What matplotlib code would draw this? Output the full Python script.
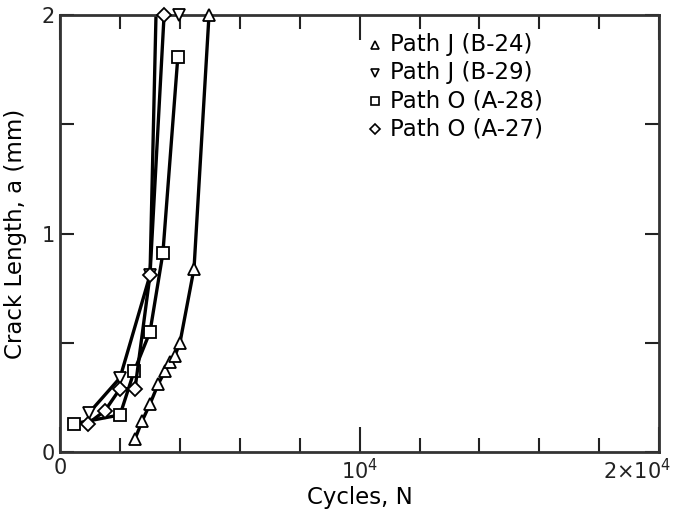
import matplotlib.pyplot as plt
from matplotlib.ticker import FixedLocator
from matplotlib.transforms import ScaledTranslation

# crack growth data (cycles, crack length in mm)
b24_n = [2500, 2730, 3000, 3270, 3500, 3670, 3830, 4000, 4470, 4970]
b24_a = [0.06, 0.14, 0.22, 0.31, 0.37, 0.41, 0.44, 0.50, 0.84, 2.0]

b29_n = [970, 2000, 3000, 3200]
b29_a = [0.18, 0.34, 0.81, 2.0]
b29_marker_n = [970, 2000, 3000, 3970]
b29_marker_a = [0.18, 0.34, 0.81, 2.0]

a28_n = [470, 2000, 2470, 3000, 3430, 3930]
a28_a = [0.13, 0.17, 0.37, 0.55, 0.91, 1.81]

a27_n = [930, 1500, 2000, 2500, 3000, 3470]
a27_a = [0.13, 0.19, 0.29, 0.29, 0.81, 2.0]

legend_labels = ['Path J (B-24)', 'Path J (B-29)', 'Path O (A-28)', 'Path O (A-27)']
legend_markers = ['^', 'v', 's', 'D']

fig = plt.figure(figsize=(6.76, 5.19), dpi=100)
ax = fig.add_axes([0.089, 0.129, 0.886, 0.842])

mk = dict(markerfacecolor='white', markeredgecolor='black', markeredgewidth=1.3,
          markersize=9, zorder=3)

ax.plot(b24_n, b24_a, color='black', lw=2.4, marker='^', **mk, clip_on=False)
ax.plot(b29_n, b29_a, color='black', lw=2.4, clip_on=True)
ax.plot(b29_marker_n, b29_marker_a, ls='none', marker='v', **mk, clip_on=False)
ax.plot(a28_n, a28_a, color='black', lw=2.4, marker='s', **mk, clip_on=False)
ax.plot(a27_n, a27_a, color='black', lw=2.4, marker='D', clip_on=False,
        markerfacecolor='white', markeredgecolor='black', markeredgewidth=1.3,
        markersize=7.5, zorder=3)

ax.set_xlim(0, 20000)
ax.set_ylim(0, 2)

ax.xaxis.set_major_locator(FixedLocator([0, 10000, 20000]))
ax.xaxis.set_minor_locator(FixedLocator([2000, 4000, 6000, 8000, 12000, 14000, 16000, 18000]))
ax.set_xticklabels(['0', r'$10^4$', r'$2{\times}10^4$'])
ax.yaxis.set_major_locator(FixedLocator([0, 1, 2]))
ax.yaxis.set_minor_locator(FixedLocator([0.5, 1.5]))
ax.set_yticklabels(['0', '1', '2'])

ax.tick_params(which='both', direction='in', top=True, right=True, width=1.5,
               colors='#222222', labelsize=15, pad=4)
ax.tick_params(which='major', length=18)
ax.tick_params(which='minor', length=10)
ax.tick_params(axis='y', which='major', length=10)

# keep the last x label inside the figure like the original
last = ax.get_xticklabels()[-1]
last.set_transform(last.get_transform() + ScaledTranslation(-0.22, 0, fig.dpi_scale_trans))

for s in ax.spines.values():
    s.set_linewidth(2)
    s.set_color('#333333')

ax.set_xlabel('Cycles, N', fontsize=16.5, labelpad=2)
ax.set_ylabel('Crack Length, a (mm)', fontsize=16.5, labelpad=10)

# legend: marker + label rows
for i, (lab, m) in enumerate(zip(legend_labels, legend_markers)):
    y = 0.932 - i * 0.064
    ax.plot([0.525], [y], transform=ax.transAxes, marker=m, ls='none',
            markerfacecolor='white', markeredgecolor='black', markeredgewidth=1.2,
            markersize=6 if m != 'D' else 5.5)
    ax.text(0.55, y, lab, transform=ax.transAxes, fontsize=16.5, va='center', ha='left')

fig.savefig('out.png', dpi=100)
